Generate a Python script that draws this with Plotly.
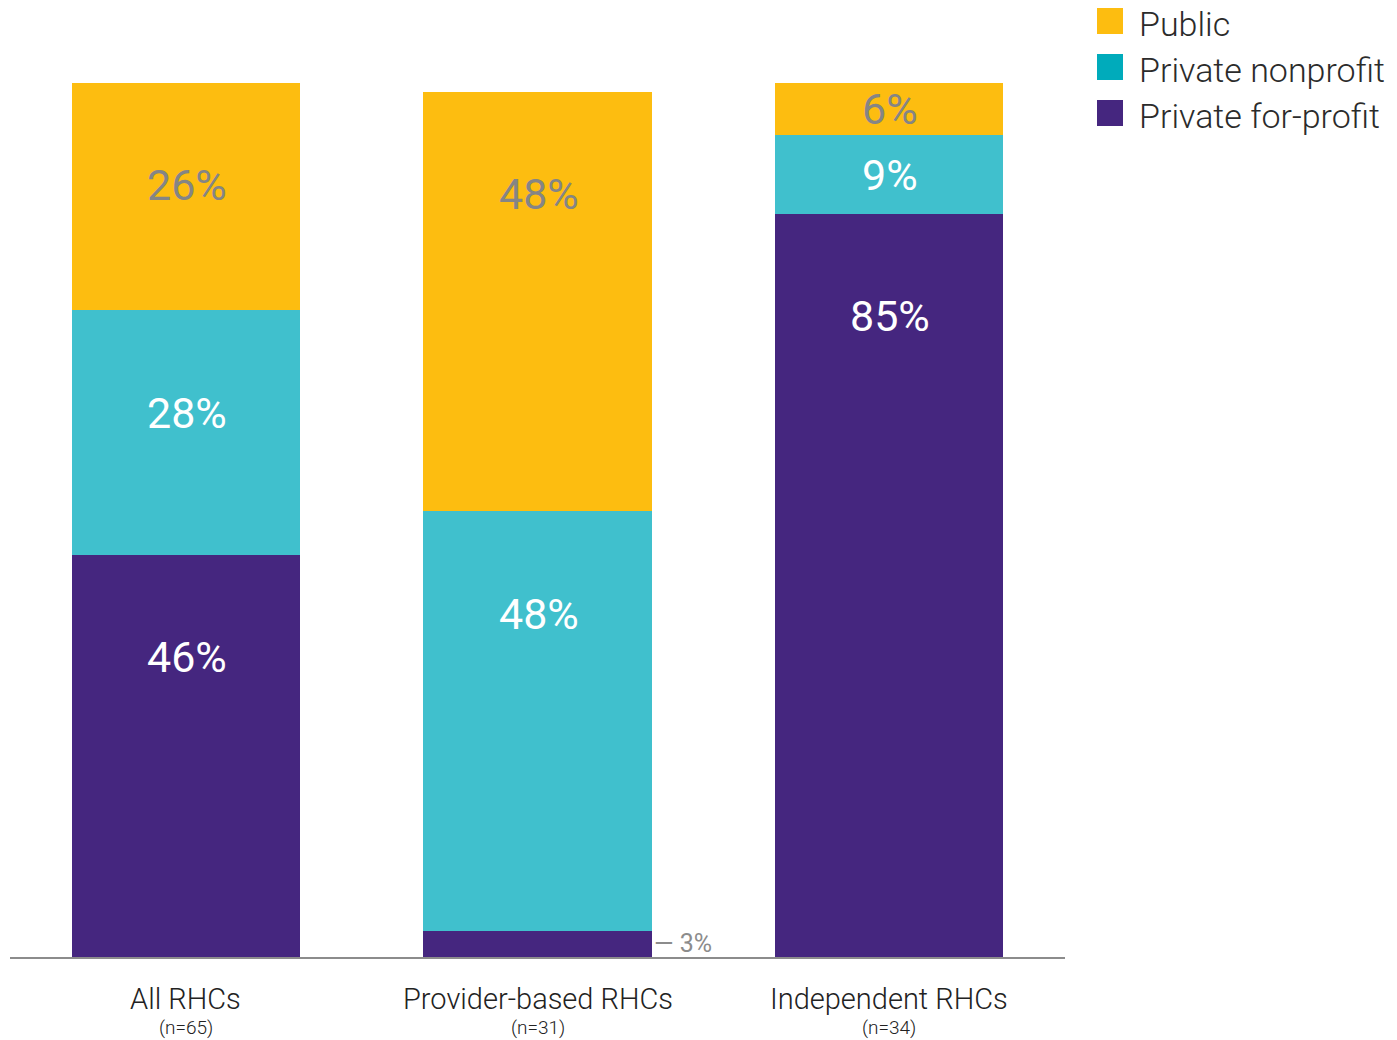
import plotly.graph_objects as go

categories = ["All RHCs", "Provider-based RHCs", "Independent RHCs"]
sample_sizes = ["(n=65)", "(n=31)", "(n=34)"]
series_names = ["Private for-profit", "Private nonprofit", "Public"]
for_profit = [46, 3, 85]
nonprofit = [28, 48, 9]
public = [26, 48, 6]

bar_colors = {"Private for-profit": "#45267F", "Private nonprofit": "#40C0CD", "Public": "#FDBD10"}
legend_colors = {"Public": "#FDBD10", "Private nonprofit": "#00ABBB", "Private for-profit": "#45267F"}
label_colors = {"Private for-profit": "white", "Private nonprofit": "white", "Public": "#858585"}

# page body has an 8px margin; figure coordinates = reference pixels - OFF
OFF = 8
W, H = 1397 - OFF, 1040 - OFF
L, T = 10 - OFF, 83 - OFF
PW, PH = 1055, 874
R = W - L - PW
B = H - T - PH

def px_x(p):
    return (p - OFF - L) / PW

def px_y(p):
    return (T + PH - (p - OFF)) / PH

fig = go.Figure()
values = {"Private for-profit": for_profit, "Private nonprofit": nonprofit, "Public": public}
for name in series_names:
    fig.add_trace(go.Bar(
        x=categories, y=values[name], name=name,
        marker=dict(color=bar_colors[name], line=dict(width=0)),
        showlegend=False, hoverinfo="skip",
    ))

FONT = "Roboto"
annotations = []
# in-bar labels
for i, cat in enumerate(categories):
    base = 0
    for name in series_names:
        v = values[name][i]
        top = base + v
        if v >= 5:
            y = top - min(v / 2, 11.7)
            annotations.append(dict(
                x=cat, y=y, xref="x", yref="y", text=f"{v}%", showarrow=False,
                font=dict(family=FONT, size=43, color=label_colors[name]),
                xanchor="center", yanchor="middle", xshift=1,
            ))
        else:
            annotations.append(dict(
                x=i, y=base + v / 2, xref="x", yref="y", text=f"— {v}%", showarrow=False,
                font=dict(family=FONT, size=25, color="#8C8C8C"),
                xanchor="left", yanchor="middle", xshift=114,
            ))
        base = top

# category labels
for i, cat in enumerate(categories):
    annotations.append(dict(
        x=cat, y=px_y(999), xref="x", yref="paper", text=cat, showarrow=False,
        font=dict(family=FONT, size=29, color="#222222", weight=300),
        xanchor="center", yanchor="middle",
    ))
    annotations.append(dict(
        x=cat, y=px_y(1027), xref="x", yref="paper", text=sample_sizes[i], showarrow=False,
        font=dict(family=FONT, size=19, color="#222222", weight=300),
        xanchor="center", yanchor="middle",
    ))

# legend
shapes = []
legend_order = ["Public", "Private nonprofit", "Private for-profit"]
for k, name in enumerate(legend_order):
    cy = 21 + k * 46
    shapes.append(dict(
        type="rect", xref="paper", yref="paper",
        x0=px_x(1097), x1=px_x(1123), y0=px_y(cy - 13), y1=px_y(cy + 13),
        fillcolor=legend_colors[name], line=dict(width=0),
    ))
    annotations.append(dict(
        x=px_x(1137), y=px_y(cy + 3), xref="paper", yref="paper", text=name, showarrow=False,
        font=dict(family=FONT, size=34, color="#2b2b2b", weight=300),
        xanchor="left", yanchor="middle",
    ))

fig.update_layout(
    width=W, height=H,
    margin=dict(l=L, r=R, t=T, b=B),
    barmode="stack", bargap=0.35,
    plot_bgcolor="white", paper_bgcolor="white",
    showlegend=False,
    xaxis=dict(showticklabels=False, ticks="", showgrid=False, zeroline=False,
               showline=True, linecolor="#8C8C8C", linewidth=2,
               range=[-0.5, 2.5]),
    yaxis=dict(range=[0, 100], visible=False, showgrid=False, zeroline=False),
    annotations=annotations, shapes=shapes,
)

fig.write_html("out.html")
